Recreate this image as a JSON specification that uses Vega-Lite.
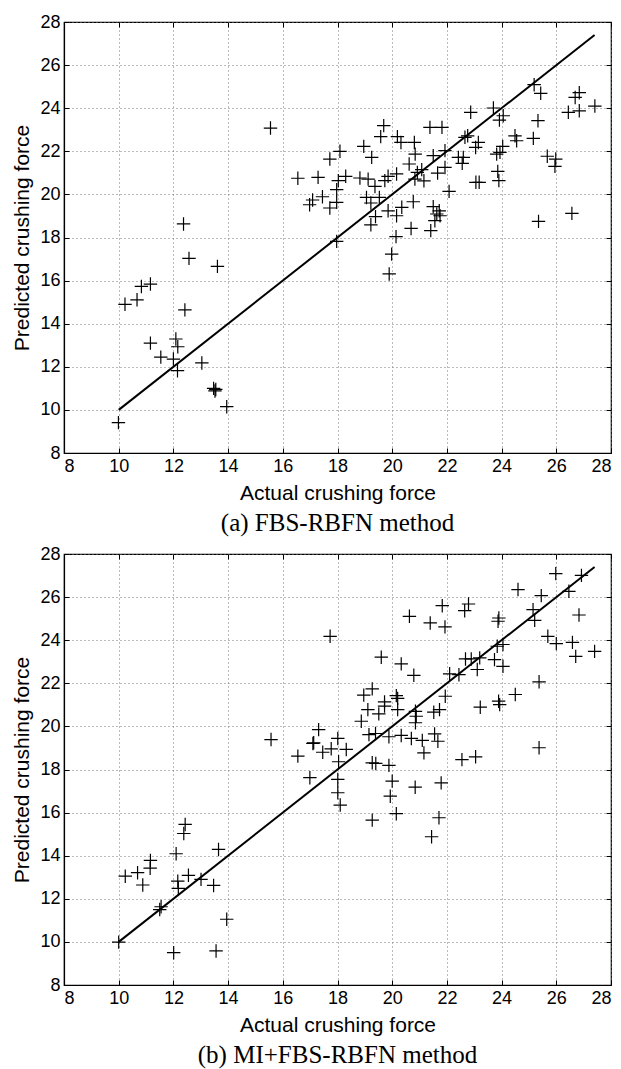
{
  "$schema": "https://vega.github.io/schema/vega-lite/v6.json",
  "padding": {"left": 11, "top": 12, "right": 5, "bottom": 5},
  "background": "white",
  "spacing": 7,
  "config": {
    "view": {"stroke": "black", "strokeWidth": 1.2},
    "axis": {
      "labelFont": "Liberation Sans", "labelFontSize": 18, "labelColor": "black",
      "titleFont": "Liberation Sans", "titleFontSize": 21, "titleFontWeight": "normal", "titleColor": "black",
      "domainColor": "black", "domainWidth": 1.2, "tickColor": "black", "tickSize": -5,
      "gridColor": "#777", "gridDash": [1, 3], "gridWidth": 1, "labelPadding": 9, "titlePadding": 7
    },
    "title": {"font": "Liberation Serif", "fontSize": 25, "fontWeight": "normal", "color": "black"}
  },
  "datasets": {
    "a": [
      {"x": 15.55, "y": 23.08}, {"x": 16.55, "y": 20.75}, {"x": 17.29, "y": 20.79}, {"x": 17.09, "y": 19.74},
      {"x": 16.98, "y": 19.52}, {"x": 12.37, "y": 18.63}, {"x": 12.57, "y": 17.03}, {"x": 13.61, "y": 16.66},
      {"x": 11.16, "y": 15.84}, {"x": 10.83, "y": 15.73}, {"x": 10.67, "y": 15.11}, {"x": 10.23, "y": 14.9},
      {"x": 12.42, "y": 14.64}, {"x": 11.16, "y": 13.1}, {"x": 12.09, "y": 13.29}, {"x": 12.16, "y": 12.93},
      {"x": 11.54, "y": 12.45}, {"x": 12.0, "y": 12.36}, {"x": 12.15, "y": 11.82}, {"x": 13.04, "y": 12.18},
      {"x": 13.47, "y": 11.0}, {"x": 13.55, "y": 10.95}, {"x": 13.52, "y": 10.88}, {"x": 13.95, "y": 10.15},
      {"x": 9.99, "y": 9.41}, {"x": 19.89, "y": 16.31},
      {"x": 25.19, "y": 25.09}, {"x": 25.43, "y": 24.69}, {"x": 26.84, "y": 24.72}, {"x": 26.69, "y": 24.5},
      {"x": 27.41, "y": 24.1}, {"x": 26.44, "y": 23.81}, {"x": 26.84, "y": 23.88}, {"x": 25.33, "y": 23.42},
      {"x": 22.87, "y": 23.81}, {"x": 23.7, "y": 24.01}, {"x": 23.92, "y": 23.45}, {"x": 24.06, "y": 23.65},
      {"x": 19.69, "y": 23.19}, {"x": 19.58, "y": 22.68}, {"x": 21.38, "y": 23.11}, {"x": 21.82, "y": 23.11},
      {"x": 20.19, "y": 22.68}, {"x": 20.32, "y": 22.41}, {"x": 20.81, "y": 22.41}, {"x": 20.84, "y": 21.87},
      {"x": 18.96, "y": 22.23}, {"x": 18.09, "y": 22.0}, {"x": 17.72, "y": 21.64}, {"x": 19.25, "y": 21.72},
      {"x": 21.5, "y": 21.8}, {"x": 21.93, "y": 22.03}, {"x": 22.66, "y": 22.65}, {"x": 22.76, "y": 22.72},
      {"x": 23.15, "y": 22.41}, {"x": 23.05, "y": 22.18}, {"x": 22.42, "y": 21.72}, {"x": 22.6, "y": 21.72},
      {"x": 22.56, "y": 21.44}, {"x": 24.49, "y": 22.72}, {"x": 24.55, "y": 22.49}, {"x": 25.16, "y": 22.6},
      {"x": 24.04, "y": 22.23}, {"x": 23.82, "y": 21.87}, {"x": 23.94, "y": 21.95}, {"x": 25.67, "y": 21.77},
      {"x": 25.98, "y": 21.64}, {"x": 25.95, "y": 21.3}, {"x": 26.57, "y": 19.12}, {"x": 25.35, "y": 18.75},
      {"x": 20.62, "y": 21.41}, {"x": 21.66, "y": 20.99}, {"x": 21.93, "y": 21.25}, {"x": 21.08, "y": 21.15},
      {"x": 20.92, "y": 21.02}, {"x": 20.83, "y": 20.71}, {"x": 21.16, "y": 20.63}, {"x": 20.16, "y": 20.95},
      {"x": 19.85, "y": 20.84}, {"x": 19.73, "y": 20.64}, {"x": 18.82, "y": 20.76}, {"x": 19.12, "y": 20.71},
      {"x": 18.3, "y": 20.84}, {"x": 18.03, "y": 20.64}, {"x": 17.97, "y": 20.22}, {"x": 19.37, "y": 20.37},
      {"x": 19.53, "y": 19.86}, {"x": 17.45, "y": 19.89}, {"x": 17.97, "y": 19.63}, {"x": 17.72, "y": 19.37},
      {"x": 19.06, "y": 19.86}, {"x": 19.22, "y": 19.6}, {"x": 20.77, "y": 19.66}, {"x": 20.35, "y": 19.4},
      {"x": 19.85, "y": 19.24}, {"x": 20.16, "y": 19.01}, {"x": 19.39, "y": 18.97}, {"x": 19.22, "y": 18.59},
      {"x": 22.08, "y": 20.14}, {"x": 23.06, "y": 20.56}, {"x": 23.18, "y": 20.56}, {"x": 23.86, "y": 21.07},
      {"x": 23.9, "y": 20.64}, {"x": 21.5, "y": 19.43}, {"x": 21.72, "y": 19.24}, {"x": 21.63, "y": 19.09},
      {"x": 21.75, "y": 19.01}, {"x": 21.56, "y": 18.78}, {"x": 21.41, "y": 18.32}, {"x": 20.69, "y": 18.42},
      {"x": 20.14, "y": 18.04}, {"x": 19.98, "y": 17.23}, {"x": 17.97, "y": 17.82}
    ],
    "b": [
      {"x": 15.57, "y": 19.39}, {"x": 16.55, "y": 18.62}, {"x": 17.1, "y": 19.21}, {"x": 17.31, "y": 19.85},
      {"x": 16.99, "y": 17.62},
      {"x": 10.24, "y": 13.05}, {"x": 10.69, "y": 13.21}, {"x": 10.88, "y": 12.64}, {"x": 11.16, "y": 13.78},
      {"x": 11.15, "y": 13.42}, {"x": 11.55, "y": 11.63}, {"x": 11.5, "y": 11.5}, {"x": 12.43, "y": 15.45},
      {"x": 12.38, "y": 15.03}, {"x": 12.1, "y": 14.09}, {"x": 12.16, "y": 12.82}, {"x": 12.18, "y": 12.48},
      {"x": 12.55, "y": 13.09}, {"x": 13.01, "y": 12.9}, {"x": 13.47, "y": 12.62}, {"x": 13.65, "y": 14.29},
      {"x": 13.95, "y": 11.05}, {"x": 13.56, "y": 9.58}, {"x": 12.01, "y": 9.5}, {"x": 10.0, "y": 9.99},
      {"x": 18.01, "y": 16.92}, {"x": 18.1, "y": 16.35}, {"x": 19.93, "y": 16.76}, {"x": 20.15, "y": 15.95},
      {"x": 19.27, "y": 15.65}, {"x": 21.71, "y": 15.76}, {"x": 21.44, "y": 14.88},
      {"x": 25.98, "y": 27.09}, {"x": 26.92, "y": 27.01}, {"x": 24.6, "y": 26.35}, {"x": 25.45, "y": 26.07},
      {"x": 26.46, "y": 26.27}, {"x": 21.83, "y": 25.6}, {"x": 22.79, "y": 25.68}, {"x": 22.65, "y": 25.37},
      {"x": 20.63, "y": 25.11}, {"x": 21.39, "y": 24.8}, {"x": 21.93, "y": 24.62}, {"x": 23.9, "y": 25.03},
      {"x": 23.87, "y": 24.88}, {"x": 25.15, "y": 25.42}, {"x": 25.21, "y": 24.92}, {"x": 26.83, "y": 25.17},
      {"x": 17.73, "y": 24.18}, {"x": 25.69, "y": 24.18}, {"x": 26.0, "y": 23.84}, {"x": 26.59, "y": 23.9},
      {"x": 26.71, "y": 23.25}, {"x": 27.4, "y": 23.48}, {"x": 23.84, "y": 23.72}, {"x": 24.05, "y": 23.8},
      {"x": 23.74, "y": 23.1}, {"x": 24.05, "y": 22.79}, {"x": 22.68, "y": 23.13}, {"x": 22.89, "y": 23.13},
      {"x": 23.2, "y": 23.18}, {"x": 23.11, "y": 22.64}, {"x": 22.44, "y": 22.4}, {"x": 22.1, "y": 22.44},
      {"x": 19.6, "y": 23.21}, {"x": 20.33, "y": 22.9}, {"x": 20.79, "y": 22.37}, {"x": 25.37, "y": 22.07},
      {"x": 24.5, "y": 21.48}, {"x": 21.94, "y": 21.4}, {"x": 19.27, "y": 21.74}, {"x": 18.96, "y": 21.45},
      {"x": 20.15, "y": 21.43}, {"x": 20.2, "y": 21.3}, {"x": 19.72, "y": 21.14}, {"x": 19.72, "y": 20.94},
      {"x": 20.2, "y": 20.78}, {"x": 19.11, "y": 20.78}, {"x": 19.51, "y": 20.58}, {"x": 18.87, "y": 20.24},
      {"x": 23.89, "y": 21.17}, {"x": 23.93, "y": 21.01}, {"x": 23.22, "y": 20.89}, {"x": 20.85, "y": 20.7},
      {"x": 20.88, "y": 20.47}, {"x": 20.85, "y": 20.17}, {"x": 21.52, "y": 20.66}, {"x": 21.73, "y": 20.78},
      {"x": 18.01, "y": 19.44}, {"x": 17.13, "y": 19.24}, {"x": 17.46, "y": 18.8}, {"x": 17.77, "y": 18.96},
      {"x": 18.32, "y": 18.93}, {"x": 19.15, "y": 19.62}, {"x": 19.39, "y": 19.67}, {"x": 19.88, "y": 19.52},
      {"x": 20.33, "y": 19.58}, {"x": 20.7, "y": 19.44}, {"x": 21.1, "y": 19.35}, {"x": 21.55, "y": 19.65},
      {"x": 21.67, "y": 19.31}, {"x": 21.16, "y": 18.77}, {"x": 18.04, "y": 18.36}, {"x": 19.27, "y": 18.31},
      {"x": 19.4, "y": 18.28}, {"x": 19.88, "y": 18.19}, {"x": 22.55, "y": 18.46}, {"x": 23.05, "y": 18.59},
      {"x": 25.37, "y": 19.01}, {"x": 18.01, "y": 17.54}, {"x": 20.0, "y": 17.46}, {"x": 20.84, "y": 17.18},
      {"x": 21.79, "y": 17.38}
    ],
    "diag": [{"x": 10, "y": 10}, {"x": 27.4, "y": 27.4}]
  },
  "vconcat": [
    {
      "width": 547, "height": 431,
      "title": {"text": "(a) FBS-RBFN method", "orient": "bottom", "offset": 8},
      "resolve": {"axis": {"x": "independent", "y": "independent"}},
      "layer": [
        {
          "data": {"name": "a"},
          "mark": {"type": "point", "shape": "M-1,0L1,0M0,-1L0,1M-0.1,-0.1L0.1,0.1M-0.1,0.1L0.1,-0.1", "filled": false, "stroke": "black", "strokeWidth": 1.2, "size": 180, "opacity": 1},
          "encoding": {
            "x": {"field": "x", "type": "quantitative", "scale": {"domain": [8, 28], "nice": false, "zero": false},
                  "axis": {"title": "Actual crushing force", "values": [8, 10, 12, 14, 16, 18, 20, 22, 24, 26, 28], "grid": true}},
            "y": {"field": "y", "type": "quantitative", "scale": {"domain": [8, 28], "nice": false, "zero": false},
                  "axis": {"title": "Predicted crushing force", "values": [8, 10, 12, 14, 16, 18, 20, 22, 24, 26, 28], "grid": true}}
          }
        },
        {
          "data": {"name": "diag"},
          "mark": {"type": "line", "color": "black", "strokeWidth": 2},
          "encoding": {
            "x": {"field": "x", "type": "quantitative", "axis": {"orient": "top", "labels": false, "domain": false, "grid": false, "title": null, "values": [8, 10, 12, 14, 16, 18, 20, 22, 24, 26, 28]}},
            "y": {"field": "y", "type": "quantitative", "axis": {"orient": "right", "labels": false, "domain": false, "grid": false, "title": null, "values": [8, 10, 12, 14, 16, 18, 20, 22, 24, 26, 28]}}
          }
        }
      ]
    },
    {
      "width": 547, "height": 431,
      "title": {"text": "(b) MI+FBS-RBFN method", "orient": "bottom", "offset": 8},
      "resolve": {"axis": {"x": "independent", "y": "independent"}},
      "layer": [
        {
          "data": {"name": "b"},
          "mark": {"type": "point", "shape": "M-1,0L1,0M0,-1L0,1M-0.1,-0.1L0.1,0.1M-0.1,0.1L0.1,-0.1", "filled": false, "stroke": "black", "strokeWidth": 1.2, "size": 180, "opacity": 1},
          "encoding": {
            "x": {"field": "x", "type": "quantitative", "scale": {"domain": [8, 28], "nice": false, "zero": false},
                  "axis": {"title": "Actual crushing force", "values": [8, 10, 12, 14, 16, 18, 20, 22, 24, 26, 28], "grid": true}},
            "y": {"field": "y", "type": "quantitative", "scale": {"domain": [8, 28], "nice": false, "zero": false},
                  "axis": {"title": "Predicted crushing force", "values": [8, 10, 12, 14, 16, 18, 20, 22, 24, 26, 28], "grid": true}}
          }
        },
        {
          "data": {"name": "diag"},
          "mark": {"type": "line", "color": "black", "strokeWidth": 2},
          "encoding": {
            "x": {"field": "x", "type": "quantitative", "axis": {"orient": "top", "labels": false, "domain": false, "grid": false, "title": null, "values": [8, 10, 12, 14, 16, 18, 20, 22, 24, 26, 28]}},
            "y": {"field": "y", "type": "quantitative", "axis": {"orient": "right", "labels": false, "domain": false, "grid": false, "title": null, "values": [8, 10, 12, 14, 16, 18, 20, 22, 24, 26, 28]}}
          }
        }
      ]
    }
  ]
}
